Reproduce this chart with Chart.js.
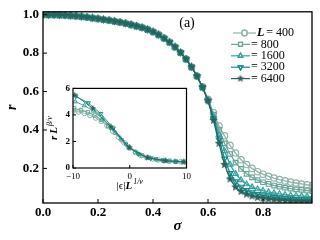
<!DOCTYPE html>
<html>
<head>
<meta charset="utf-8">
<script src="https://cdn.jsdelivr.net/npm/chart.js@4.4.1/dist/chart.umd.min.js"></script>
<style>
  body { margin: 0; background: #fff; }
  #wrap { position: relative; width: 320px; height: 240px; }
  #main { position: absolute; left: 0; top: 0; }
  #inset { position: absolute; left: 44px; top: 80px; }
</style>
</head>
<body>
<div id="wrap">
  <canvas id="main" width="320" height="240"></canvas>
  <canvas id="inset" width="150" height="115"></canvas>
</div>
<script>
// main panel: r vs sigma for each system size
const sigma = [0.00, 0.02, 0.04, 0.06, 0.08, 0.10, 0.12, 0.14, 0.16, 0.18,
  0.20, 0.22, 0.24, 0.26, 0.28, 0.30, 0.32, 0.34, 0.36, 0.38,
  0.40, 0.42, 0.44, 0.46, 0.48, 0.50, 0.52, 0.54, 0.56, 0.58,
  0.60, 0.62, 0.64, 0.66, 0.68, 0.70, 0.72, 0.74, 0.76, 0.78,
  0.80, 0.82, 0.84, 0.86, 0.88, 0.90, 0.92, 0.94, 0.96, 0.98];

const r400 = [1.000, 0.999, 0.999, 0.998, 0.997, 0.995, 0.993, 0.990, 0.987, 0.983,
  0.979, 0.975, 0.971, 0.966, 0.961, 0.955, 0.948, 0.941, 0.933, 0.923,
  0.911, 0.896, 0.878, 0.857, 0.832, 0.803, 0.769, 0.728, 0.681, 0.625,
  0.560, 0.490, 0.420, 0.370, 0.320, 0.280, 0.245, 0.220, 0.200, 0.183,
  0.170, 0.159, 0.150, 0.142, 0.135, 0.129, 0.124, 0.119, 0.115, 0.112];
const r800 = [1.000, 0.999, 0.999, 0.998, 0.997, 0.995, 0.993, 0.990, 0.987, 0.983,
  0.979, 0.975, 0.971, 0.966, 0.961, 0.955, 0.948, 0.941, 0.933, 0.923,
  0.911, 0.896, 0.878, 0.857, 0.832, 0.803, 0.769, 0.728, 0.680, 0.623,
  0.556, 0.480, 0.400, 0.330, 0.275, 0.230, 0.197, 0.172, 0.153, 0.139,
  0.128, 0.119, 0.111, 0.105, 0.100, 0.095, 0.091, 0.088, 0.085, 0.082];
const r1600 = [1.000, 0.999, 0.999, 0.998, 0.997, 0.995, 0.993, 0.990, 0.987, 0.983,
  0.979, 0.975, 0.971, 0.966, 0.961, 0.955, 0.948, 0.941, 0.933, 0.923,
  0.911, 0.896, 0.878, 0.857, 0.832, 0.803, 0.769, 0.728, 0.680, 0.622,
  0.553, 0.470, 0.375, 0.290, 0.220, 0.172, 0.140, 0.118, 0.103, 0.092,
  0.084, 0.077, 0.072, 0.067, 0.063, 0.060, 0.058, 0.056, 0.054, 0.052];
const r3200 = [1.000, 0.999, 0.999, 0.998, 0.997, 0.995, 0.993, 0.990, 0.987, 0.983,
  0.979, 0.975, 0.971, 0.966, 0.961, 0.955, 0.948, 0.941, 0.933, 0.923,
  0.911, 0.896, 0.878, 0.857, 0.832, 0.803, 0.769, 0.728, 0.680, 0.622,
  0.552, 0.460, 0.350, 0.250, 0.175, 0.132, 0.104, 0.087, 0.075, 0.066,
  0.059, 0.054, 0.050, 0.047, 0.044, 0.042, 0.040, 0.039, 0.038, 0.037];
const r6400 = [1.000, 0.999, 0.999, 0.998, 0.997, 0.995, 0.993, 0.990, 0.987, 0.983,
  0.979, 0.975, 0.971, 0.966, 0.961, 0.955, 0.948, 0.941, 0.933, 0.923,
  0.911, 0.896, 0.878, 0.857, 0.832, 0.803, 0.769, 0.728, 0.680, 0.622,
  0.552, 0.450, 0.330, 0.220, 0.145, 0.103, 0.080, 0.066, 0.056, 0.049,
  0.044, 0.040, 0.037, 0.035, 0.033, 0.031, 0.030, 0.029, 0.028, 0.027];

// inset: scaled collapse r L^{beta/nu} vs |eps| L^{1/nu}
const ins400x = [-10, -9, -8, -7, -6, -5, -4, -3, -2, -1, 0, 1, 2, 3, 4, 5, 6, 7, 8, 9, 10];
const ins400y = [4.3, 4.22, 4.12, 3.97, 3.77, 3.52, 3.18, 2.78, 2.33, 1.9, 1.5, 1.18, 0.94, 0.79, 0.69, 0.61, 0.56, 0.52, 0.5, 0.48, 0.46];
const ins800x = [-9.8, -8.6, -7.4, -6.2, -5.0, -3.8, -2.6, -1.4, -0.2, 1.0, 2.2, 3.4, 4.6, 5.8, 7.0, 8.2, 9.4];
const ins800y = [4.5, 4.36, 4.2, 3.96, 3.62, 3.16, 2.65, 2.1, 1.6, 1.2, 0.95, 0.78, 0.66, 0.58, 0.52, 0.48, 0.45];
const ins1600x = [-9.6, -8.0, -6.4, -4.8, -3.2, -1.6, 0.0, 1.6, 3.2, 4.8, 6.4, 8.0, 9.6];
const ins1600y = [5.0, 4.7, 4.3, 3.7, 3.0, 2.2, 1.5, 1.05, 0.78, 0.63, 0.54, 0.48, 0.45];
const ins3200x = [-9.5, -7.3, -5.1, -2.9, -0.7, 1.5, 3.7, 5.9, 8.1];
const ins3200y = [5.4, 4.9, 4.1, 3.0, 1.8, 1.05, 0.72, 0.56, 0.48];
const ins6400x = [-9.7, -6.5, -3.3, -0.1, 3.1, 6.3, 9.5];
const ins6400y = [5.5, 4.5, 3.1, 1.55, 0.78, 0.55, 0.46];

const sizeLabels = ["400", "800", "1600", "3200", "6400"];
const colors = ["#8fb3a9", "#69a699", "#35a39d", "#138d89", "#2a635e"];

const serif = "'Liberation Serif', 'DejaVu Serif', serif";

function makeStar(color, size) {
  let c = document.createElement("canvas");
  c.width = size; c.height = size;
  let g = c.getContext("2d");
  let cx = size / 2, cy = size / 2, R = size / 2, r = R * 0.45;
  g.beginPath();
  for (let i = 0; i < 10; i++) {
    let a = -Math.PI / 2 + i * Math.PI / 5;
    let rad = i % 2 === 0 ? R : r;
    g.lineTo(cx + rad * Math.cos(a), cy + rad * Math.sin(a));
  }
  g.closePath();
  g.fillStyle = color;
  g.fill();
  return c;
}

const styles = ["circle", "rect", "triangle", "triangle", makeStar(colors[4], 9)];
const rotations = [0, 0, 0, 180, 0];
const insetStyles = ["circle", "rect", "triangle", "triangle", makeStar(colors[4], 7)];

function toPoints(xs, ys) {
  return xs.map((x, i) => ({x: x, y: ys[i]}));
}

const mainSeries = [r400, r800, r1600, r3200, r6400];
const insetSeries = [[ins400x, ins400y], [ins800x, ins800y], [ins1600x, ins1600y],
  [ins3200x, ins3200y], [ins6400x, ins6400y]];

// frame + inward ticks
const framePlugin = {
  id: "frame",
  afterDraw(chart, args, opts) {
    let ctx = chart.ctx;
    let a = chart.chartArea;
    ctx.save();
    ctx.strokeStyle = "#000";
    ctx.lineWidth = opts.lw;
    ctx.strokeRect(a.left, a.top, a.right - a.left, a.bottom - a.top);
    ctx.lineWidth = 1;
    chart.scales.x.ticks.forEach(t => {
      let px = chart.scales.x.getPixelForValue(t.value);
      ctx.beginPath();
      ctx.moveTo(px, a.bottom);
      ctx.lineTo(px, a.bottom - opts.tl);
      ctx.stroke();
    });
    chart.scales.y.ticks.forEach(t => {
      let py = chart.scales.y.getPixelForValue(t.value);
      ctx.beginPath();
      ctx.moveTo(a.left, py);
      ctx.lineTo(a.left + opts.tl, py);
      ctx.stroke();
    });
    ctx.restore();
  }
};

// legend and panel tag inside the main axes
const legendPlugin = {
  id: "sizeLegend",
  afterDraw(chart) {
    let ctx = chart.ctx;
    ctx.save();
    ctx.fillStyle = "#000";
    ctx.font = "14px " + serif;
    ctx.textAlign = "center";
    ctx.textBaseline = "middle";
    ctx.fillText("(a)", 187, 23);
    ctx.textAlign = "left";
    sizeLabels.forEach((lab, i) => {
      let y = 33 + i * 11.4;
      let x0 = i === 0 ? 233 : 231;
      let x1 = i === 0 ? 256 : 250;
      let mx = (x0 + x1) / 2;
      ctx.strokeStyle = colors[i];
      ctx.lineWidth = 1.2;
      ctx.beginPath();
      ctx.moveTo(x0, y);
      ctx.lineTo(x1, y);
      ctx.stroke();
      if (i === 4) {
        ctx.drawImage(makeStar(colors[4], 8), mx - 4, y - 4);
      } else {
        ctx.fillStyle = "#fff";
        Chart.helpers.drawPoint(ctx, {pointStyle: styles[i], rotation: rotations[i], radius: 2.8, borderWidth: 1}, mx, y);
        ctx.stroke();
      }
      ctx.fillStyle = "#000";
      let tx = x1 + 1;
      if (i === 0) {
        ctx.font = "italic bold 12px " + serif;
        ctx.fillText("L", tx, y);
        tx += ctx.measureText("L").width + 2;
      }
      ctx.font = "12px " + serif;
      ctx.fillText("= " + lab, tx, y);
    });
    ctx.restore();
  }
};

new Chart(document.getElementById("main"), {
  type: "scatter",
  data: {
    datasets: mainSeries.map((ys, i) => ({
      label: "L = " + sizeLabels[i],
      data: toPoints(sigma, ys),
      showLine: true,
      borderColor: colors[i],
      borderWidth: 1.3,
      pointStyle: styles[i],
      pointRotation: rotations[i],
      pointRadius: 3.2,
      pointBorderWidth: 1.2,
      pointBorderColor: colors[i],
      pointBackgroundColor: "rgba(255,255,255,0)",
      order: 4 - i
    }))
  },
  options: {
    responsive: false,
    animation: false,
    layout: {padding: {top: 9, right: 8, left: 0, bottom: 0}},
    plugins: {
      legend: {display: false},
      tooltip: {enabled: false},
      frame: {lw: 1.3, tl: 4}
    },
    scales: {
      x: {
        type: "linear", min: 0, max: 0.978,
        grid: {display: false, drawTicks: false},
        border: {display: false},
        afterBuildTicks: s => { s.ticks = [0, 0.2, 0.4, 0.6, 0.8].map(v => ({value: v})); },
        afterFit: s => { s.height = 37; },
        ticks: {
          color: "#000", padding: 2, maxRotation: 0, autoSkip: false,
          font: {family: serif, size: 13, weight: "bold"},
          callback: v => v.toFixed(1)
        },
        title: {
          display: true, text: "σ", color: "#000",
          font: {family: serif, size: 15, style: "italic", weight: "bold"},
          padding: {top: 0, bottom: 5}
        }
      },
      y: {
        type: "linear", min: 0.02, max: 1.015,
        grid: {display: false, drawTicks: false},
        border: {display: false},
        afterBuildTicks: s => { s.ticks = [0.2, 0.4, 0.6, 0.8, 1.0].map(v => ({value: v})); },
        afterFit: s => { s.width = 43; },
        ticks: {
          color: "#000", padding: 4, autoSkip: false,
          font: {family: serif, size: 13, weight: "bold"},
          callback: v => v.toFixed(1)
        },
        title: {
          display: true, text: "r", color: "#000",
          font: {family: serif, size: 14, style: "italic", weight: "bold"},
          padding: {top: 4, bottom: 0}
        }
      }
    }
  },
  plugins: [framePlugin, legendPlugin]
});

// inset: white face + superscripted axis titles
const insetPlugin = {
  id: "insetDeco",
  beforeDraw(chart) {
    let a = chart.chartArea;
    let ctx = chart.ctx;
    ctx.save();
    ctx.fillStyle = "#fff";
    ctx.fillRect(a.left, a.top, a.right - a.left, a.bottom - a.top);
    ctx.restore();
  },
  afterDraw(chart) {
    let a = chart.chartArea;
    let ctx = chart.ctx;
    ctx.save();
    ctx.fillStyle = "#000";
    ctx.textBaseline = "alphabetic";
    // x title |eps| L^{1/nu}
    let main = "|ϵ|";
    let xFont = "11px " + serif;
    let lFont = "italic bold 11px " + serif;
    let supFont = "italic 8px " + serif;
    ctx.font = xFont; let w1 = ctx.measureText(main).width;
    ctx.font = lFont; let w2 = ctx.measureText("L").width;
    ctx.font = supFont; let w3 = ctx.measureText("1/ν").width;
    let x = (a.left + a.right) / 2 - (w1 + w2 + w3 + 1) / 2;
    let y = a.bottom + 21;
    ctx.font = xFont; ctx.fillText(main, x, y); x += w1;
    ctx.font = lFont; ctx.fillText("L", x, y); x += w2 + 1;
    ctx.font = supFont; ctx.fillText("1/ν", x, y - 5);
    // y title r L^{beta/nu}, rotated
    ctx.translate(a.left - 16, (a.top + a.bottom) / 2);
    ctx.rotate(-Math.PI / 2);
    ctx.font = lFont; let v1 = ctx.measureText("r").width; let v2 = ctx.measureText("L").width;
    ctx.font = supFont; let v3 = ctx.measureText("β/ν").width;
    let yx = -(v1 + v2 + v3 + 3) / 2;
    ctx.font = lFont; ctx.fillText("r", yx, 0); yx += v1 + 2;
    ctx.fillText("L", yx, 0); yx += v2 + 1;
    ctx.font = supFont; ctx.fillText("β/ν", yx, -5);
    ctx.restore();
  }
};

new Chart(document.getElementById("inset"), {
  type: "scatter",
  data: {
    datasets: insetSeries.map((s, i) => ({
      data: toPoints(s[0], s[1]),
      showLine: true,
      borderColor: colors[i],
      borderWidth: 0.9,
      pointStyle: insetStyles[i],
      pointRotation: rotations[i],
      pointRadius: 2.4,
      pointBorderWidth: 1,
      pointBorderColor: colors[i],
      pointBackgroundColor: "rgba(255,255,255,0)",
      order: 4 - i
    }))
  },
  options: {
    responsive: false,
    animation: false,
    layout: {padding: {top: 6, right: 6, left: 0, bottom: 0}},
    plugins: {
      legend: {display: false},
      tooltip: {enabled: false},
      frame: {lw: 1.2, tl: 3}
    },
    scales: {
      x: {
        type: "linear", min: -10, max: 10,
        grid: {display: false, drawTicks: false},
        border: {display: false},
        afterBuildTicks: s => { s.ticks = [-10, 0, 10].map(v => ({value: v})); },
        afterFit: s => { s.height = 27; },
        ticks: {
          color: "#000", padding: 3, maxRotation: 0, autoSkip: false,
          font: {family: serif, size: 9},
          callback: v => (v < 0 ? "−" + Math.abs(v) : String(v))
        }
      },
      y: {
        type: "linear", min: 0, max: 6,
        grid: {display: false, drawTicks: false},
        border: {display: false},
        afterBuildTicks: s => { s.ticks = [0, 2, 4, 6].map(v => ({value: v})); },
        afterFit: s => { s.width = 29; },
        ticks: {
          color: "#000", padding: 3, autoSkip: false,
          font: {family: serif, size: 9, weight: "bold"},
          callback: v => String(v)
        }
      }
    }
  },
  plugins: [framePlugin, insetPlugin]
});
</script>
</body>
</html>
